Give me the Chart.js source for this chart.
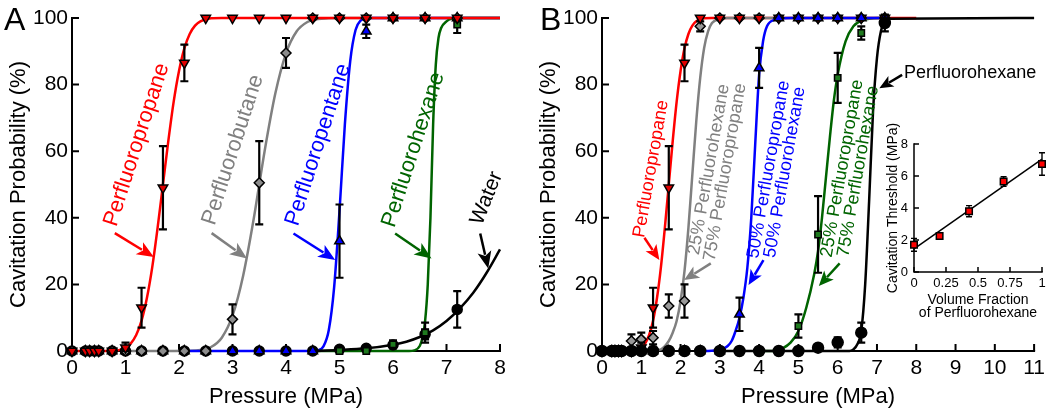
<!DOCTYPE html>
<html><head><meta charset="utf-8">
<script src="https://cdn.jsdelivr.net/npm/chart.js@4.4.1/dist/chart.umd.min.js"></script>
<style>
html,body{margin:0;padding:0;background:#fff;overflow:hidden}
#wrap{position:relative;width:1050px;height:413px;background:#fff}
#wrap canvas{position:absolute}
</style></head><body><div id="wrap">
<canvas id="cA" width="530" height="413" style="left:0;top:0;width:530px;height:413px"></canvas>
<canvas id="cB" width="520" height="413" style="left:530px;top:0;width:520px;height:413px"></canvas>
<canvas id="cI" width="180" height="210" style="left:870px;top:110px;width:180px;height:210px"></canvas>
</div>
<script>
const FONT = '"Liberation Sans", Arial, Helvetica, sans-serif';

// ---------------- Panel A : measured points ----------------
const pressure = [0,0.25,0.33,0.42,0.5,0.75,1,1.3,1.7,2.1,2.5,3,3.5,4,4.5,5,5.5,6,6.6,7.2];
const propaneA    = [0,0,0,0,0,0,1,13,49,86.5,100,100,100,100,100,100,100,100,100,100];
const propaneAErr = [0,0,0,0,0,0,1.5,6,12.5,5.5,0,0,0,0,0,0,0,0,0,0];
const butaneA     = [0,0,0,0,0,0,0,0,0,0,0,9.5,50.5,89.5,100,100,100,100,100,100];
const butaneAErr  = [0,0,0,0,0,0,0,0,0,0,0,4.5,12.5,4.5,0,0,0,0,0,0];
const pentaneA    = [0,0,0,0,0,0,0,0,0,0,0,0,0,0,0,33,96,100,100,100];
const pentaneAErr = [0,0,0,0,0,0,0,0,0,0,0,0,0,0,0,11,2,0,0,0];
const hexaneA     = [0,0,0,0,0,0,0,0,0,0,0,0,0,0,0,0,0,2,5.5,98];
const hexaneAErr  = [0,0,0,0,0,0,0,0,0,0,0,0,0,0,0,0,0,1.2,3,2.5];
const waterA      = [0,0,0,0,0,0,0,0,0,0,0,0,0,0,0,0.5,0.8,1.8,5,12.5];
const waterAErr   = [0,0,0,0,0,0,0,0,0,0,0,0,0,0,0,0,0,0.8,1.5,5.5];

// Panel A : fitted curves
const propaneFitX = [0,0.8,1.0,1.1,1.2,1.3,1.4,1.5,1.6,1.7,1.8,1.9,2.0,2.1,2.2,2.3,2.4,2.6,2.8,8];
const propaneFitY = [0,0.1,1,2.3,4.8,9.1,15.9,25.2,37,50,63,74.8,84.1,90.9,95.2,97.7,99,99.9,100,100];
const butaneFitX  = [1.0,2.2,2.4,2.6,2.8,3.0,3.2,3.4,3.5,3.6,3.8,4.0,4.2,4.4,4.6,4.8,5.0,8];
const butaneFitY  = [0,0.1,0.3,1.2,4,10.6,22.7,40,50,60,77.3,89.4,96,98.8,99.7,99.9,100,100];
const pentaneFitX = [2.2,4.5,4.6,4.7,4.8,4.9,5.0,5.1,5.2,5.3,5.4,5.5,5.6,8];
const pentaneFitY = [0,0,0.2,1.4,6.3,19.2,42,68,87,96.4,99.3,99.9,100,100];
const hexaneFitX  = [4.5,6.3,6.4,6.5,6.55,6.6,6.65,6.7,6.75,6.8,6.85,6.9,7.0,7.1,7.2,8];
const hexaneFitY  = [0,0,0.2,1.5,4,9,20,40,68,86,94,97,99,99.8,100,100];
const waterFitX   = [4.5,5,5.5,6,6.25,6.5,6.75,7,7.25,7.5,7.75,8];
const waterFitY   = [0,0.3,0.8,1.9,2.8,4.2,6.2,9,12.8,17.5,23.5,30.5];

// ---------------- Panel B : measured points ----------------
const mix25B     = [0,0,0,0,0,3,3.5,4,13.5,15,97.5,100,100,100,100,100,100,100,100,100];
const mix25BErr  = [0,0,0,0,0,2,2,2,3.5,5,1.5,0,0,0,0,0,0,0,0,0];
const mix50B     = [0,0,0,0,0,0,0,0,0,0,0,0,11,85,100,100,100,100,100,100];
const mix50BErr  = [0,0,0,0,0,0,0,0,0,0,0,0,5,6,0,0,0,0,0,0];
const mix75B     = [0,0,0,0,0,0,0,0,0,0,0,0,0,0,0,7.5,35,82,95.5,100];
const mix75BErr  = [0,0,0,0,0,0,0,0,0,0,0,0,0,0,0,3.5,11.5,7.5,2,0];
const hexaneB    = [0,0,0,0,0,0,0,0,0,0,0,0,0,0,0,0,1,2.6,5.5,98.5];
const hexaneBErr = [0,0,0,0,0,0,0,0,0,0,0,0,0,0,0,0,0,1.5,3,2.5];

// Panel B : fitted curves
const mix25FitX  = [1.2,1.5,1.7,1.8,1.9,2.0,2.1,2.2,2.3,2.4,2.5,2.6,2.7,2.8,3.0,3.2,7.2];
const mix25FitY  = [0,0.5,3,5.5,9,15,24,37,53,69,82,91,96,98.5,99.7,100,100];
const mix50FitX  = [2.6,3.0,3.2,3.3,3.4,3.5,3.6,3.7,3.8,3.9,4.0,4.1,4.2,4.4,4.6,4.8,7.2];
const mix50FitY  = [0,0.3,1.5,3,6,10,16,25,40,62,83,93,97.5,99.5,99.9,100,100];
const mix75FitX  = [4.0,4.4,4.6,4.8,5.0,5.2,5.4,5.5,5.6,5.7,5.8,5.9,6.0,6.2,6.4,6.6,6.8,7.2];
const mix75FitY  = [0,0,0.8,2.5,6,13,23,30,40,52,64,75,83,93,97.5,99.2,99.8,100];
const hexaneBFitX = [3.1,6.3,6.4,6.5,6.6,6.7,6.8,6.9,7.0,7.1,7.2,7.3,11];
const hexaneBFitY = [0,0,0.5,2,6,20,45,72,88,96,99,99.8,100];

// ---------------- Inset ----------------
const fraction     = [0,0.2,0.43,0.7,1.0];
const threshold    = [1.7,2.25,3.8,5.65,6.75];
const thresholdErr = [0.4,0.2,0.35,0.3,0.7];
const lineFitX = [0,1];
const lineFitY = [1.45,7.05];

// tick label lists
const ticksA = [0,1,2,3,4,5,6,7,8];
const ticksB = [0,1,2,3,4,5,6,7,8,9,10,11];
const ticksP = [0,20,40,60,80,100];
const ticksFrac = [0,0.25,0.5,0.75,1];
const labelsFrac = ['0','0.25','0.5','0.75','1'];
const ticksThr = [0,2,4,6,8];

const RED='#ff0000', GRAY='#808080', BLUE='#0000ff', GREEN='#006400', BLACK='#000000';

const pts = (xs, ys) => xs.map((x,i)=>({x, y:ys[i]}));

function curve(xs, ys, color, order, lw){
  return {data:pts(xs,ys), showLine:true, borderColor:color, borderWidth:lw||2.5, pointRadius:0,
    cubicInterpolationMode:'monotone', fill:false, order, clip:false};
}
function marks(xs, ys, errs, fill, style, rot, r, order){
  return {data:pts(xs,ys), showLine:false, pointStyle:style, rotation:rot||0, pointRadius:r,
    backgroundColor:fill, borderColor:'#000', borderWidth:1.5, errors:errs, order, clip:false};
}

// ---- plugins ----
function drawArrow(ctx,x1,y1,x2,y2,hl,hw,lw){
  const a = Math.atan2(y2-y1,x2-x1), c=Math.cos(a), s=Math.sin(a);
  const bx = x2-hl*c, by = y2-hl*s;
  ctx.lineWidth = lw; ctx.lineCap='butt';
  ctx.beginPath(); ctx.moveTo(x1,y1); ctx.lineTo(bx+3*c, by+3*s); ctx.stroke();
  ctx.beginPath(); ctx.moveTo(x2,y2);
  ctx.lineTo(bx - hw*s, by + hw*c);
  ctx.lineTo(bx + 0.25*hl*c, by + 0.25*hl*s);
  ctx.lineTo(bx + hw*s, by - hw*c);
  ctx.closePath(); ctx.fill();
}

const ANNOT = {};   // filled below, keyed by canvas id

const axesPlugin = {
  id:'axesPlugin',
  beforeDatasetsDraw(chart){
    const cfg = ANNOT[chart.canvas.id]; const {ctx, chartArea:a, scales:{x,y}} = chart;
    const len = cfg.tickLen, lw = cfg.axisW;
    ctx.save(); ctx.strokeStyle='#000'; ctx.lineWidth=lw; ctx.lineCap='square';
    ctx.beginPath();
    ctx.moveTo(a.left, a.top); ctx.lineTo(a.left, a.bottom); ctx.lineTo(a.right, a.bottom);
    ctx.stroke();
    ctx.lineCap='butt'; ctx.beginPath();
    x.ticks.forEach(t=>{const p=x.getPixelForValue(t.value); ctx.moveTo(p,a.bottom); ctx.lineTo(p,a.bottom-len);});
    y.ticks.forEach(t=>{const p=y.getPixelForValue(t.value); ctx.moveTo(a.left,p); ctx.lineTo(a.left+len,p);});
    ctx.stroke(); ctx.restore();
  },
  beforeDatasetDraw(chart,args){
    const ds = chart.data.datasets[args.index]; if(!ds.errors) return;
    const cfg = ANNOT[chart.canvas.id];
    const {ctx, scales:{y}} = chart; const cap = cfg.cap;
    ctx.save(); ctx.strokeStyle='#000'; ctx.lineWidth=cfg.errW; ctx.beginPath();
    args.meta.data.forEach((el,i)=>{
      const e = ds.errors[i]; if(!e) return; const v = ds.data[i].y;
      const yt = y.getPixelForValue(v+e), yb = y.getPixelForValue(Math.max(v-e,0)), xx = el.x;
      ctx.moveTo(xx,yt); ctx.lineTo(xx,yb);
      ctx.moveTo(xx-cap,yt); ctx.lineTo(xx+cap,yt);
      ctx.moveTo(xx-cap,yb); ctx.lineTo(xx+cap,yb);
    });
    ctx.stroke(); ctx.restore();
  },
  afterDraw(chart){
    const cfg = ANNOT[chart.canvas.id]; const {ctx, scales:{x,y}} = chart;
    (cfg.items||[]).forEach(it=>{
      ctx.save(); ctx.fillStyle=it.color; ctx.strokeStyle=it.color;
      if(it.arrow){ const [p1,v1,p2,v2]=it.arrow;
        drawArrow(ctx,x.getPixelForValue(p1),y.getPixelForValue(v1),x.getPixelForValue(p2),y.getPixelForValue(v2),it.hl,it.hw,it.lw); }
      ctx.translate(x.getPixelForValue(it.at[0]), y.getPixelForValue(it.at[1]));
      ctx.rotate(it.angle*Math.PI/180);
      ctx.font = it.size+'px '+FONT; ctx.textAlign=it.align||'center'; ctx.textBaseline='middle';
      const n = it.text.length;
      it.text.forEach((t,i)=>ctx.fillText(t,0,(i-(n-1)/2)*it.lh));
      ctx.restore();
    });
    if(cfg.letter){ ctx.save(); ctx.fillStyle='#000'; ctx.font='32px '+FONT; ctx.textAlign='left';
      ctx.textBaseline='alphabetic'; ctx.fillText(cfg.letter, cfg.lx, cfg.ly); ctx.restore(); }
  }
};

ANNOT.cA = {tickLen:7, axisW:2, cap:4, errW:2.2, letter:'A', lx:4, ly:30, items:[
  {text:['Perfluoropropane'], color:RED,  at:[1.21,61.9], angle:-72, size:22, lh:22, arrow:[0.80,35.4,1.53,28.2], hl:17, hw:7, lw:2.5},
  {text:['Perfluorobutane'],  color:GRAY, at:[3.01,60.4], angle:-72, size:22, lh:22, arrow:[2.61,35.4,3.27,27.8], hl:17, hw:7, lw:2.5},
  {text:['Perfluoropentane'], color:BLUE, at:[4.60,61.9], angle:-72, size:22, lh:22, arrow:[4.14,35.3,4.92,27.3], hl:17, hw:7, lw:2.5},
  {text:['Perfluorohexane'],  color:GREEN,at:[6.38,60.4], angle:-72, size:22, lh:22, arrow:[6.04,35.3,6.72,27.8], hl:17, hw:7, lw:2.5},
  {text:['Water'],            color:BLACK,at:[7.75,45.9], angle:-68, size:21, lh:21, arrow:[7.63,35.3,7.78,24.8], hl:17, hw:7, lw:2.5}
]};
ANNOT.cB = {tickLen:7, axisW:2, cap:4, errW:2.2, letter:'B', lx:10, ly:30, items:[
  {text:['Perfluoropropane'], color:RED, at:[1.25,54.7], angle:-80, size:18, lh:17, arrow:[1.08,34,1.46,27.3], hl:15, hw:6.5, lw:2.5},
  {text:['25% Perfluorohexane','75% Perfluoropropane'], color:GRAY, at:[2.93,54.1], angle:-80, size:18, lh:16.5, arrow:[2.77,26.3,2.09,21.3], hl:15, hw:6.5, lw:2.5},
  {text:['50% Perfluoropropane','50% Perfluorohexane'], color:BLUE, at:[4.45,54.1], angle:-80, size:18, lh:16.5, arrow:[4.11,27.3,3.73,19.8], hl:15, hw:6.5, lw:2.5},
  {text:['25% Perfluoropropane','75% Perfluorohexane'], color:GREEN, at:[6.32,54.4], angle:-80, size:18, lh:16.5, arrow:[6.05,26.3,5.52,19.5], hl:15, hw:6.5, lw:2.5},
  {text:['Perfluorohexane'], color:BLACK, at:[7.69,83.4], angle:0, size:18, lh:18, align:'left', arrow:[7.64,82.9,7.06,78.9], hl:14, hw:6, lw:2.5}
]};
ANNOT.cI = {tickLen:5, axisW:1.5, cap:3, errW:1.4, items:[]};

function scale(min,max,tickVals,tickLabels,tickSize,tickPad,title,titleSize,titlePad,fit,isY,titleLH){
  return {type:'linear', min, max,
    ticks:{autoSkip:false, maxRotation:0, color:'#000', padding:tickPad, font:{family:FONT,size:tickSize},
      callback:(v)=>{const i=tickVals.indexOf(v); return i<0?'':(tickLabels?tickLabels[i]:String(v));}},
    afterBuildTicks(s){ s.ticks = tickVals.map(v=>({value:v})); },
    grid:{display:false, drawTicks:false}, border:{display:false},
    title:{display:true, text:title, color:'#000', padding:titlePad, font:{family:FONT,size:titleSize,lineHeight:titleLH||1.2}},
    afterFit(s){ if(isY) s.width=fit; else s.height=fit; }};
}
const baseOpts = (pad, xs, ys) => ({responsive:false, animation:false, events:[],
  layout:{padding:pad},
  plugins:{legend:{display:false}, tooltip:{enabled:false}},
  scales:{x:xs, y:ys}});

// Panel A
new Chart(document.getElementById('cA'), {type:'scatter', plugins:[axesPlugin],
  data:{datasets:[
    marks(pressure, propaneA, propaneAErr, '#e00000', 'triangle', 180, 5.5, 0),
    marks(pressure, butaneA,  butaneAErr,  '#8c8c8c', 'rectRot', 0, 5, 1),
    marks(pressure, pentaneA, pentaneAErr, '#0000ff', 'triangle', 0, 5.5, 2),
    marks(pressure, hexaneA,  hexaneAErr,  '#1f7a1f', 'rect', 0, 4.5, 3),
    marks(pressure, waterA,   waterAErr,   '#000000', 'circle', 0, 5, 4),
    curve(propaneFitX, propaneFitY, RED, 5),
    curve(waterFitX, waterFitY, BLACK, 6),
    curve(hexaneFitX, hexaneFitY, GREEN, 7),
    curve(pentaneFitX, pentaneFitY, BLUE, 8),
    curve(butaneFitX, butaneFitY, GRAY, 9)
  ]},
  options: baseOpts({left:0,top:18,right:30,bottom:0},
    scale(0,8,ticksA,null,21,5,'Pressure (MPa)',22,{top:0,bottom:3},62,false),
    scale(0,100,ticksP,null,21,4,'Cavitation Probability (%)',22,{top:6,bottom:0},72,true))
});

// Panel B
new Chart(document.getElementById('cB'), {type:'scatter', plugins:[axesPlugin],
  data:{datasets:[
    marks(pressure, hexaneB, hexaneBErr, '#000000', 'circle', 0, 5.5, 0),
    marks(pressure, mix50B,  mix50BErr,  '#0000ff', 'triangle', 0, 5.5, 1),
    marks(pressure, propaneA, propaneAErr, '#e00000', 'triangle', 180, 5.5, 2),
    marks(pressure, mix25B,  mix25BErr,  '#999999', 'rectRot', 0, 5, 3),
    marks(pressure, mix75B,  mix75BErr,  '#1f7a1f', 'rect', 0, 4.5, 4),
    curve(hexaneBFitX, hexaneBFitY, BLACK, 5),
    curve(mix50FitX, mix50FitY, BLUE, 6),
    curve(mix25FitX, mix25FitY, GRAY, 7),
    curve(propaneFitX, propaneFitY, RED, 8),
    curve(mix75FitX, mix75FitY, GREEN, 9)
  ]},
  options: baseOpts({left:0,top:18,right:12,bottom:0},
    scale(0,11,ticksB,null,21,5,'Pressure (MPa)',22,{top:0,bottom:3},62,false),
    scale(0,100,ticksP,null,21,4,'Cavitation Probability (%)',22,{top:6,bottom:0},72,true))
});

// Inset
new Chart(document.getElementById('cI'), {type:'scatter', plugins:[axesPlugin],
  data:{datasets:[
    marks(fraction, threshold, thresholdErr, '#ff0000', 'rect', 0, 4.6, 0),
    curve(lineFitX, lineFitY, BLACK, 1, 1.5)
  ]},
  options: baseOpts({left:0,top:34,right:8,bottom:0},
    scale(0,1,ticksFrac,labelsFrac,13,4,['Volume Fraction','of Perfluorohexane'],14,{top:0,bottom:1},48,false,0.9),
    scale(0,8,ticksThr,null,13,6,'Cavitation Threshold (MPa)',14,{top:14.6,bottom:0},44,true))
});
</script></body></html>
